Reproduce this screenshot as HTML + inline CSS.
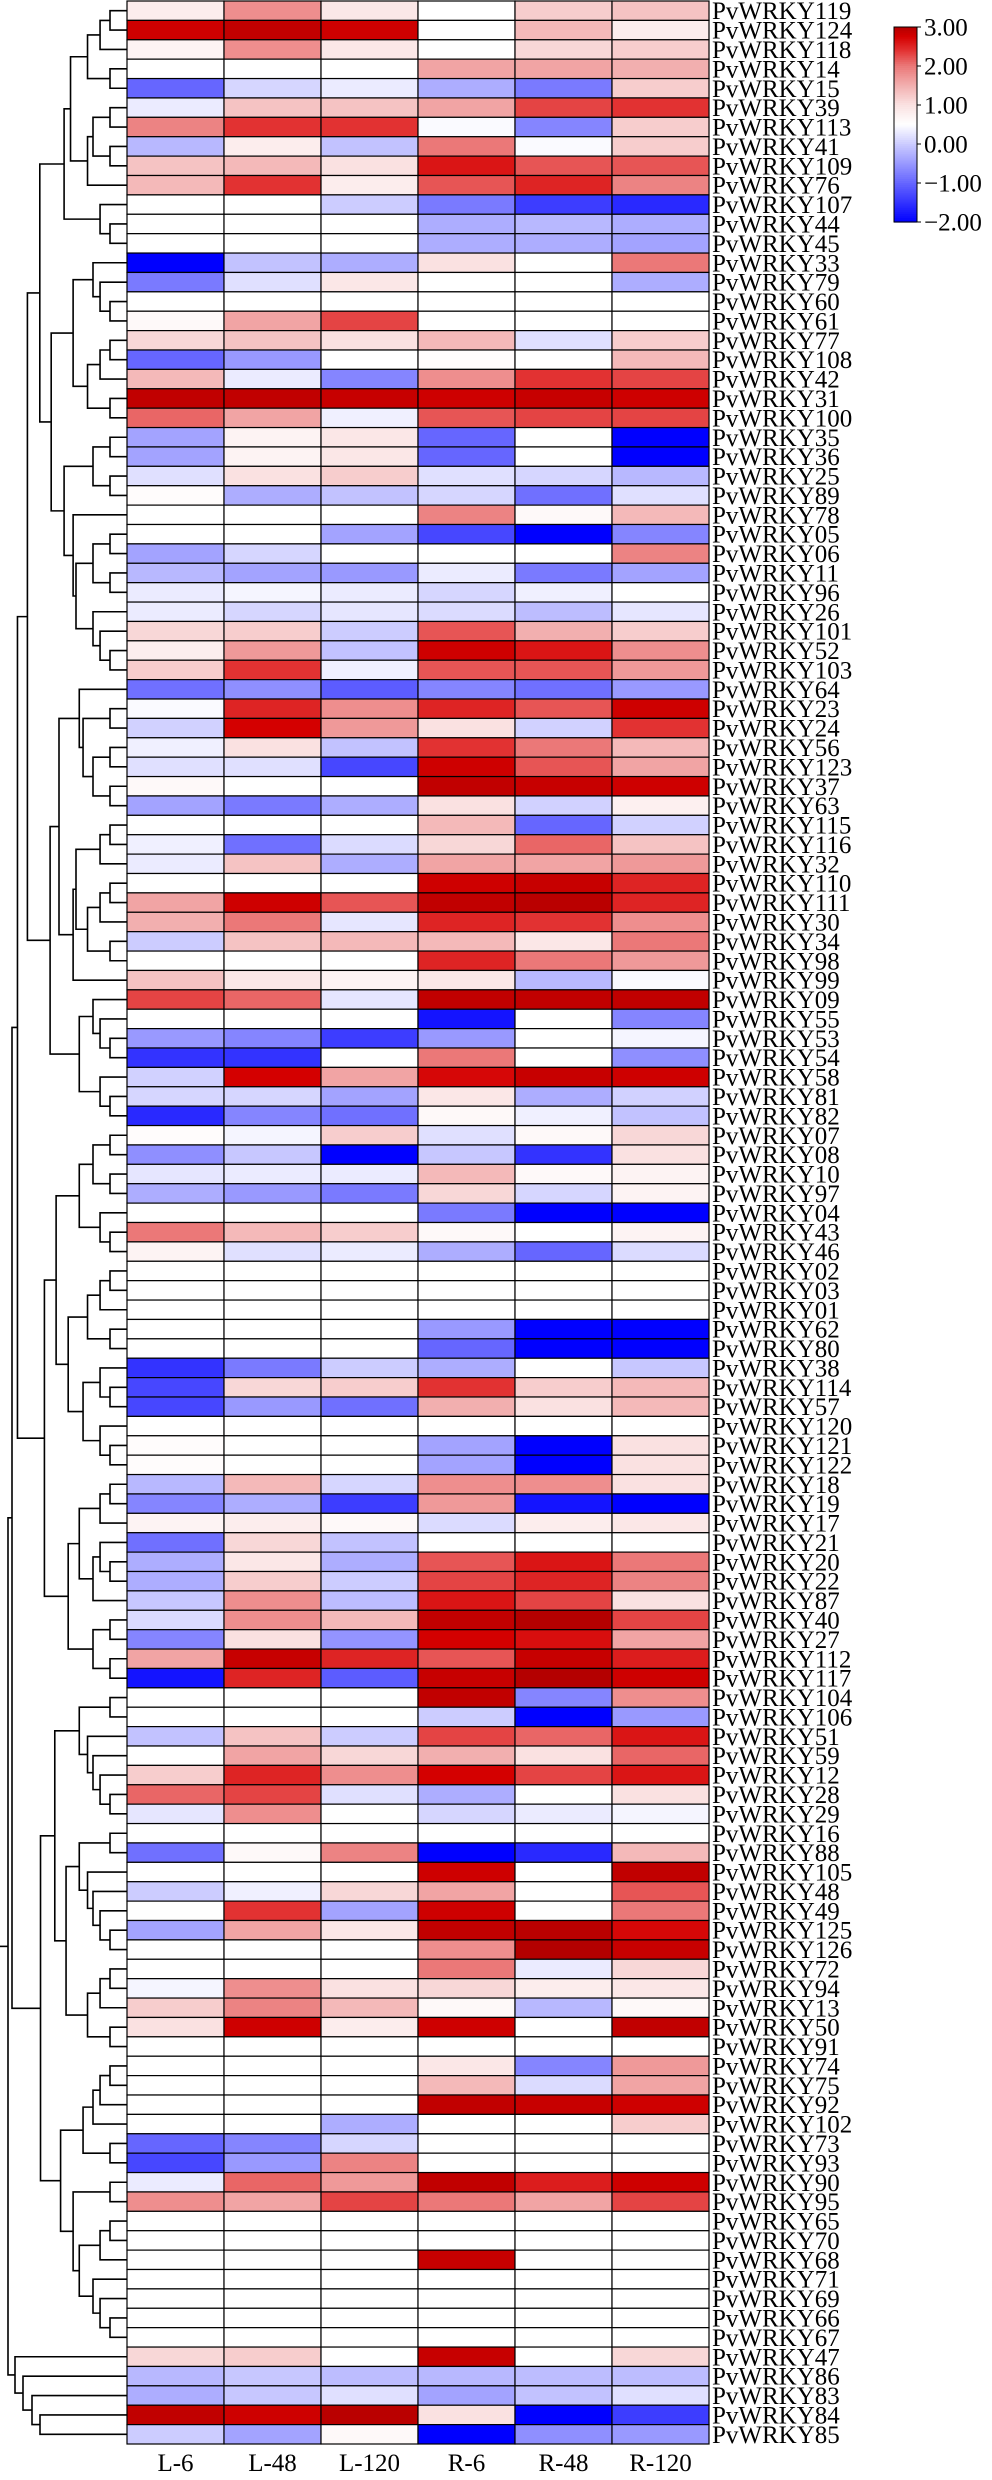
<!DOCTYPE html>
<html><head><meta charset="utf-8">
<style>
html,body{margin:0;padding:0;background:#fff;}
svg{display:block;}
text{font-family:"Liberation Serif","Times New Roman",serif;fill:#000;}
</style></head>
<body>
<svg id="chart" width="992" height="2480" viewBox="0 0 992 2480" xmlns="http://www.w3.org/2000/svg">
<g id="dendro"></g>
<g id="cells"></g>
<g id="rowlabels"></g>
<g id="collabels"></g>
<g id="cbar"></g>
</svg>
<script>
const columns = ["L-6","L-48","L-120","R-6","R-48","R-120"];
const genes = ["PvWRKY119","PvWRKY124","PvWRKY118","PvWRKY14","PvWRKY15","PvWRKY39","PvWRKY113","PvWRKY41","PvWRKY109","PvWRKY76",
"PvWRKY107","PvWRKY44","PvWRKY45","PvWRKY33","PvWRKY79","PvWRKY60","PvWRKY61","PvWRKY77","PvWRKY108","PvWRKY42",
"PvWRKY31","PvWRKY100","PvWRKY35","PvWRKY36","PvWRKY25","PvWRKY89","PvWRKY78","PvWRKY05","PvWRKY06","PvWRKY11",
"PvWRKY96","PvWRKY26","PvWRKY101","PvWRKY52","PvWRKY103","PvWRKY64","PvWRKY23","PvWRKY24","PvWRKY56","PvWRKY123",
"PvWRKY37","PvWRKY63","PvWRKY115","PvWRKY116","PvWRKY32","PvWRKY110","PvWRKY111","PvWRKY30","PvWRKY34","PvWRKY98",
"PvWRKY99","PvWRKY09","PvWRKY55","PvWRKY53","PvWRKY54","PvWRKY58","PvWRKY81","PvWRKY82","PvWRKY07","PvWRKY08",
"PvWRKY10","PvWRKY97","PvWRKY04","PvWRKY43","PvWRKY46","PvWRKY02","PvWRKY03","PvWRKY01","PvWRKY62","PvWRKY80",
"PvWRKY38","PvWRKY114","PvWRKY57","PvWRKY120","PvWRKY121","PvWRKY122","PvWRKY18","PvWRKY19","PvWRKY17","PvWRKY21",
"PvWRKY20","PvWRKY22","PvWRKY87","PvWRKY40","PvWRKY27","PvWRKY112","PvWRKY117","PvWRKY104","PvWRKY106","PvWRKY51",
"PvWRKY59","PvWRKY12","PvWRKY28","PvWRKY29","PvWRKY16","PvWRKY88","PvWRKY105","PvWRKY48","PvWRKY49","PvWRKY125",
"PvWRKY126","PvWRKY72","PvWRKY94","PvWRKY13","PvWRKY50","PvWRKY91","PvWRKY74","PvWRKY75","PvWRKY92","PvWRKY102",
"PvWRKY73","PvWRKY93","PvWRKY90","PvWRKY95","PvWRKY65","PvWRKY70","PvWRKY68","PvWRKY71","PvWRKY69","PvWRKY66",
"PvWRKY67","PvWRKY47","PvWRKY86","PvWRKY83","PvWRKY84","PvWRKY85"];
const colL6 = [0.8,2.8,0.7,0.5,-1.0,0.3,1.9,-0.2,1.3,1.4, 0.5,0.5,0.5,-2,-0.8,0.5,0.6,1.1,-1.0,1.4, 2.9,2.1,-0.4,-0.4,0.2,0.55,0.5,0.5,-0.4,-0.2,
0.3,0.3,1.1,0.8,1.2,-0.9,0.45,0.05,0.35,0.2, 0.6,-0.4,0.5,0.35,0.3,0.5,1.6,1.5,0.0,0.5, 1.3,2.3,0.5,-0.5,-1.5,0.05,0.1,-1.6,0.55,-0.6,
0.25,-0.3,0.5,2.0,0.7,0.5,0.5,0.5,0.5,0.5, -1.5,-1.3,-1.3,0.5,0.55,0.55,-0.2,-0.7,0.7,-0.9, -0.3,-0.3,-0.05,0.15,-0.7,1.6,-1.8,0.5,0.5,-0.1,
0.5,1.2,2.1,0.25,0.5,-0.9,0.5,0.0,0.5,-0.4, 0.5,0.5,0.4,1.2,1.0,0.5,0.5,0.5,0.5,0.5, -1.0,-1.3,0.3,1.8,0.5,0.5,0.5,0.5,0.5,0.5,
0.5,1.1,-0.2,-0.3,2.9,0.0];
const colL48 = [1.8,2.9,1.8,0.5,0.1,1.3,2.4,0.8,1.4,2.4, 0.5,0.5,0.5,-0.1,0.2,0.5,1.6,1.3,-0.5,0.3, 2.9,1.6,0.7,0.7,1.0,-0.3,0.5,0.5,0.1,-0.4,
0.4,0.1,1.2,1.7,2.4,-0.6,2.5,2.75,1.0,0.2, 0.5,-0.8,0.5,-0.9,1.3,0.5,2.8,2.0,1.3,0.5, 0.9,2.1,0.5,-0.7,-1.5,2.75,0.1,-0.7,0.4,-0.05,
0.3,-0.5,0.5,1.4,0.2,0.5,0.5,0.5,0.5,0.5, -0.8,1.1,-0.5,0.5,0.5,0.5,1.4,-0.3,0.8,1.1, 0.9,1.2,1.8,1.8,1.0,2.85,2.5,0.5,0.5,1.3,
1.6,2.5,2.3,1.8,0.5,0.6,0.5,0.35,2.4,1.6, 0.5,0.5,1.8,1.9,2.8,0.5,0.5,0.5,0.5,0.5, -0.7,-0.5,2.1,1.6,0.5,0.5,0.5,0.5,0.5,0.5,
0.5,1.2,-0.05,-0.05,2.8,-0.4];
const colL120 = [0.9,2.8,0.9,0.5,0.3,1.3,2.4,-0.1,1.0,0.8, 0.0,0.5,0.5,-0.3,0.9,0.5,2.3,1.0,0.5,-0.7, 2.85,0.35,0.9,0.9,1.2,-0.1,0.5,-0.4,0.5,-0.5,
0.3,0.25,0.0,-0.1,0.35,-1.1,1.8,1.7,-0.1,-1.3, 0.5,-0.3,0.5,0.15,-0.3,0.5,2.2,0.25,1.4,0.5, 0.7,0.25,0.5,-1.4,0.5,1.6,-0.4,-0.9,1.2,-2,
0.3,-0.8,0.5,1.2,0.3,0.5,0.5,0.5,0.5,0.5, 0.0,1.2,-0.9,0.5,0.5,0.5,0.1,-1.4,0.6,-0.1, -0.3,0.0,-0.15,1.4,-0.55,2.5,-1.1,0.5,0.5,0.0,
1.1,1.8,0.2,0.5,0.5,1.9,0.5,1.1,-0.4,0.9, 0.5,0.5,1.0,1.4,0.8,0.5,0.5,0.5,0.5,-0.3, 0.1,1.9,1.7,2.3,0.5,0.5,0.5,0.5,0.5,0.5,
0.5,0.5,-0.15,0.2,2.95,0.6];
const colR6 = [0.5,0.5,0.5,1.6,-0.3,1.6,0.45,2.0,2.6,2.2, -0.8,-0.3,-0.3,1.0,0.5,0.5,0.5,1.4,0.55,1.8, 2.8,2.2,-1.0,-1.0,0.2,0.1,1.9,-1.3,0.5,0.3,
0.1,0.15,2.2,2.8,2.2,-0.7,2.5,1.0,2.4,2.8, 2.9,1.0,1.4,1.1,1.6,2.8,2.9,2.5,1.4,2.5, 0.9,2.9,-1.8,-0.5,2.0,2.7,0.9,0.6,0.2,-0.05,
1.4,1.1,-0.8,0.6,-0.3,0.5,0.5,0.5,-0.5,-1.0, -0.3,2.4,1.5,0.5,-0.4,-0.4,1.8,1.7,0.15,0.5, 2.2,2.3,2.6,2.9,2.75,2.2,2.85,2.9,0.0,2.3,
1.5,2.75,-0.3,0.1,0.5,-2,2.8,1.6,2.8,2.9, 1.8,2.0,1.1,0.6,2.8,0.5,0.9,1.4,2.9,0.5, 0.5,0.5,2.9,2.0,0.5,0.5,2.85,0.5,0.5,0.5,
0.5,2.85,-0.2,-0.4,1.0,-2];
const colR48 = [1.2,1.4,1.1,1.6,-0.8,2.3,-0.7,0.45,2.2,2.5, -1.4,-0.2,-0.3,0.5,0.5,0.5,0.5,0.2,0.5,2.4, 2.85,2.3,0.5,0.5,0.1,-0.9,0.6,-2,0.5,-0.8,
0.35,-0.15,1.5,2.6,2.2,-0.9,2.2,0.05,2.0,2.2, 2.85,0.05,-1.0,2.1,1.6,2.85,2.95,2.4,0.9,2.0, -0.2,2.9,0.5,0.5,0.5,2.85,-0.3,0.35,0.6,-1.5,
0.6,0.1,-2,0.5,-1.0,0.5,0.5,0.5,-2,-2, 0.5,1.2,1.0,0.5,-2,-2,1.8,-1.8,0.8,0.5, 2.6,2.5,2.3,3.0,2.65,2.85,3.0,-0.7,-2,2.1,
1.0,2.3,0.5,0.3,0.5,-1.6,0.5,0.5,0.5,2.95, 3.0,0.3,0.8,-0.2,0.5,0.5,-0.7,0.15,2.85,0.5, 0.5,0.5,2.55,1.6,0.5,0.5,0.5,0.5,0.5,0.5,
0.5,0.5,-0.15,-0.1,-2,-0.6];
const colR120 = [1.3,0.8,1.2,1.5,1.2,2.4,1.2,1.2,2.2,1.9, -1.6,-0.3,-0.4,2.0,-0.3,0.5,0.5,1.2,1.4,2.3, 2.8,2.3,-2,-2,-0.2,0.2,1.4,-0.7,1.9,-0.4,
0.5,0.25,1.2,1.8,1.7,-0.5,2.8,2.4,1.4,1.6, 2.8,0.75,0.05,1.3,1.7,2.5,2.5,1.8,2.0,1.7, 0.45,2.9,-0.7,0.4,-0.6,2.8,0.05,-0.1,1.1,1.0,
0.7,0.7,-2,0.7,0.15,0.5,0.5,0.5,-2,-2, -0.05,1.4,1.4,0.5,1.0,1.0,1.0,-2,0.9,0.5, 2.0,1.9,1.0,2.3,1.6,2.55,2.8,1.8,-0.5,2.6,
2.1,2.6,1.0,0.4,0.5,1.4,2.9,2.2,2.0,2.7, 2.85,1.1,0.9,0.6,2.9,0.5,1.7,1.6,2.8,1.2, 0.5,0.5,2.8,2.3,0.5,0.5,0.5,0.5,0.5,0.5,
0.5,1.1,-0.15,0.2,-1.4,-0.5];
const cbarTicks = [3,2,1,0,-1,-2];
const cbarTickLabels = ["3.00","2.00","1.00","0.00","\u22121.00","\u22122.00"];
// dendrogram topology (1-based row indices)
const treeA=[[[[1,2],3],[4,5]],[[[6,7],[8,9]],10]];
const treeB=[11,[12,13]];
const treeC=[14,[15,[16,17]]];
const treeD=[[[18,19],20],[21,22]];
const treeE=[[23,24],[25,26]];
const treeF=[27,[[[28,29],[30,31]],[32,[33,[34,35]]]]];
const treeG=[36,[[37,38],[[39,40],[41,42]]]];
const treeI=[[[[43,44],45],[[[46,47],48],[49,50]]],51];
const treeJ=[52,[53,[54,55]]];
const treeK=[56,[57,58]];
const treeM=[[[59,60],[61,62]],[63,[64,65]]];
const treeN=[[[66,67],68],[69,70]];
const treeO=[[71,[72,73]],[74,[75,76]]];
const treeP=[[[77,78],79],[[80,[81,82]],83]];
const treeQ=[[84,85],[86,87]];
const treeR=[[88,89],[90,[91,[92,[93,94]]]]];
const treeS=[[95,96],[97,[98,[99,[100,101]]]]];
const treeT=[[[102,103],104],[105,106]];
const treeU=[[[[107,108],109],110],[111,112]];
const treeV=[[113,114],[[[115,116],117],[118,[119,[120,121]]]]];
const treeW=[122,[123,[124,[125,126]]]];

const NS="http://www.w3.org/2000/svg";
const X0=127, CW=97, Y0=1, RH=(2444-1)/126;
const xPos = c => X0 + c*CW;
const yPos = r => Y0 + r*RH;
function el(tag, attrs, parent){const e=document.createElementNS(NS,tag);for(const k in attrs)e.setAttribute(k,attrs[k]);parent.appendChild(e);return e;}
function lerp(a,b,t){return Math.round(a+(b-a)*t);}
const stops=[[-2,[0,0,255]],[0.5,[255,255,255]],[1.0,[250,225,225]],[1.5,[242,175,175]],[2.0,[235,120,120]],[2.4,[226,50,50]],[2.75,[212,0,0]],[3.0,[180,0,0]]];
function color(v){
  v=Math.max(-2,Math.min(3,v));
  for(let i=0;i<stops.length-1;i++){
    const [a,ca]=stops[i],[b,cb]=stops[i+1];
    if(v>=a&&v<=b){const t=(v-a)/(b-a);return `rgb(${lerp(ca[0],cb[0],t)},${lerp(ca[1],cb[1],t)},${lerp(ca[2],cb[2],t)})`;}
  }
  return "rgb(180,0,0)";
}
const series=[colL6,colL48,colL120,colR6,colR48,colR120];
const cells=document.getElementById('cells');
for(let r=0;r<genes.length;r++){
  for(let c=0;c<columns.length;c++){
    const rect=el('rect',{x:xPos(c),y:yPos(r),width:CW,height:RH,fill:color(series[c][r]),stroke:'#000','stroke-width':1.2},cells);
    
    
  }
}
const rl=document.getElementById('rowlabels');
genes.forEach((g,r)=>{
  const t=el('text',{x:712,y:yPos(r)+RH/2+8.5,'font-size':25},rl);
  t.textContent=g;
  
  
});
const cl=document.getElementById('collabels');
columns.forEach((c,i)=>{
  const t=el('text',{x:xPos(i)+CW/2,y:2471,'font-size':25,'text-anchor':'middle'},cl);
  t.textContent=c;
  
  
});
// colorbar
const cb=document.getElementById('cbar');
const CBX=894,CBW=23,CBT=27,CBB=222;
const cbY=v=>CBT+(3-v)/5*(CBB-CBT);
for(let i=0;i<100;i++){
  const v=3-5*(i+0.5)/100;
  const r=el('rect',{x:CBX,y:CBT+i*(CBB-CBT)/100,width:CBW,height:(CBB-CBT)/100+0.6,fill:color(v)},cb);
  
  
}
const cbo=el('rect',{x:CBX,y:CBT,width:CBW,height:CBB-CBT,fill:'none',stroke:'#000','stroke-width':1},cb);


cbarTicks.forEach((v,i)=>{
  const tk=el('line',{x1:CBX+CBW,x2:CBX+CBW+4,y1:cbY(v),y2:cbY(v),stroke:'#000','stroke-width':1},cb);
  
  
  const t=el('text',{x:CBX+CBW+7,y:cbY(v)+8.5,'font-size':25},cb);
  t.textContent=cbarTickLabels[i];
  
  
});
// dendrogram
const tree=[[[[[[treeA,treeB],[[treeC,treeD],[treeE,treeF]]],[[treeG,treeI],[treeJ,treeK]]],[[treeM,[treeN,treeO]],[treeP,treeQ]]],[[treeR,[treeS,treeT]],[treeU,treeV]]],treeW];
const override=new Map();
override.set(tree,8);
override.set(tree[0],12);
override.set(treeW,15);
override.set(treeW[1],23);
override.set(treeW[1][1],32);
override.set(treeW[1][1][1],40);
const dg=document.getElementById('dendro');
function count(n){return Array.isArray(n)?count(n[0])+count(n[1]):1;}
function draw(n){
  if(!Array.isArray(n)) return {x:X0,y:yPos(n-1)+RH/2};
  const a=draw(n[0]),b=draw(n[1]);
  const x=override.has(n)?override.get(n):X0-17*Math.log2(count(n));
  const p=el('path',{d:`M${a.x},${a.y}H${x}V${b.y}H${b.x}`,fill:'none',stroke:'#000','stroke-width':1.6},dg);
  
  
  return {x:x,y:(a.y+b.y)/2};
}
const root=draw(tree);
const stub=el('line',{x1:0,x2:root.x,y1:root.y,y2:root.y,stroke:'#000','stroke-width':1.6},dg);


</script>
</body></html>
